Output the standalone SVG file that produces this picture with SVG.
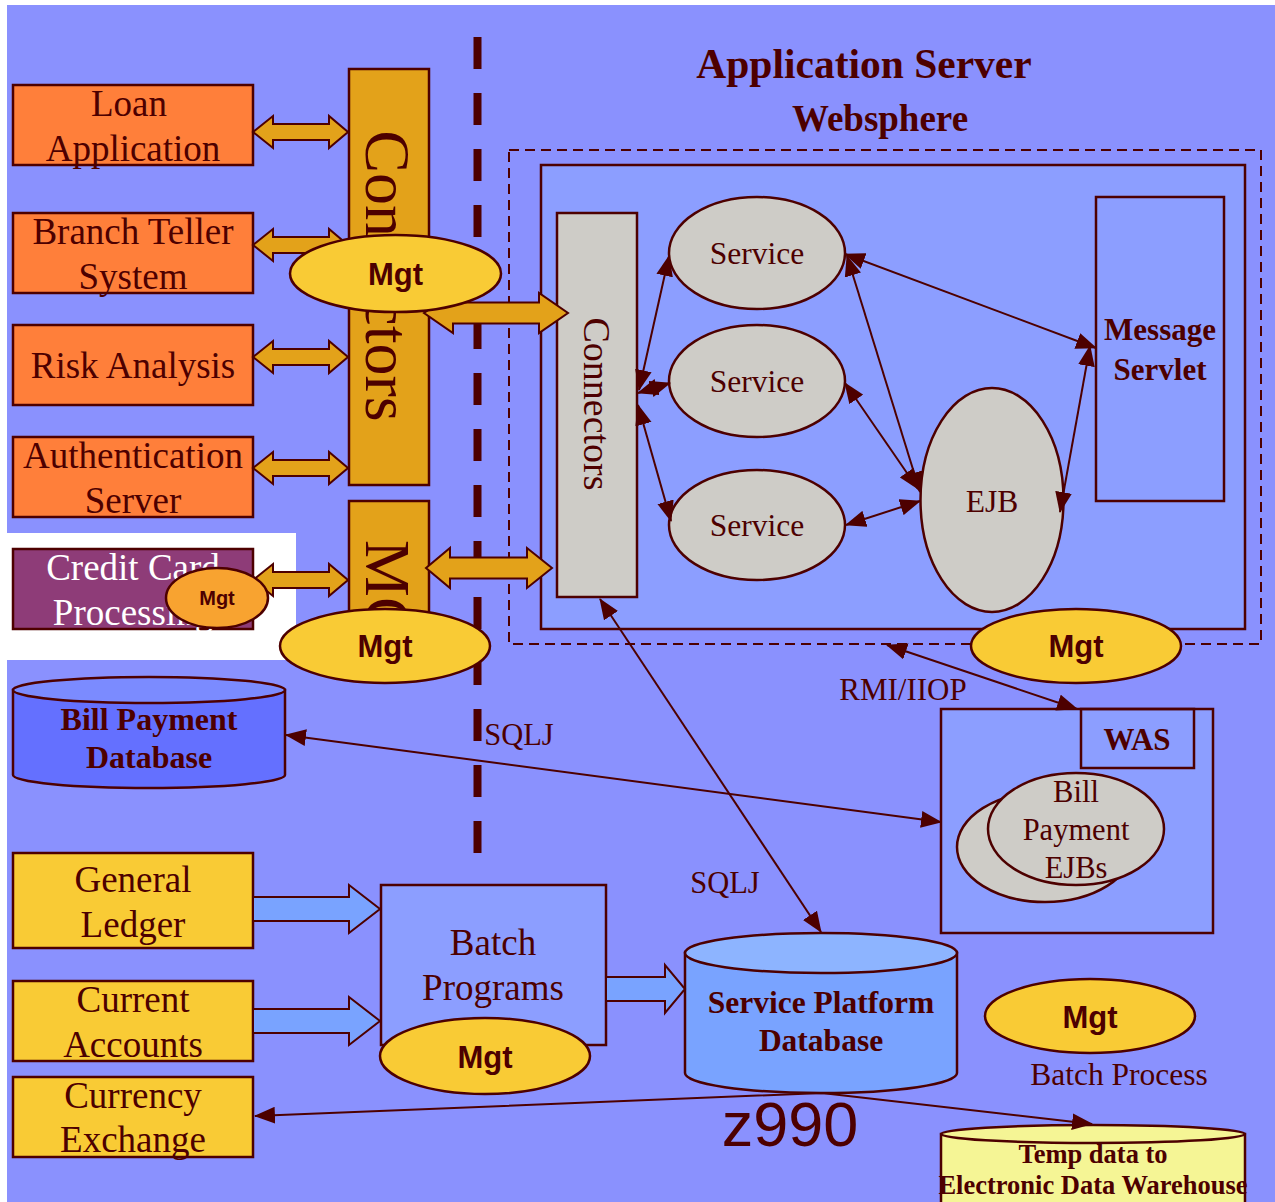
<svg xmlns="http://www.w3.org/2000/svg" width="1275" height="1202" viewBox="0 0 1275 1202">
  <defs>
    <style>
      .bx { stroke: #4D0000; stroke-width: 2.5; }
      .orange { fill: #FF7F3A; }
      .yellow { fill: #F9CB35; }
      .gold { fill: #E3A21A; }
      .grey { fill: #CECCC7; }
      .lblue { fill: #8C9EFF; }
      .t { font-family: "Liberation Serif", "Times New Roman", serif; fill: #4D0000; text-anchor: middle; }
      .tb { font-family: "Liberation Serif", "Times New Roman", serif; fill: #4D0000; text-anchor: middle; font-weight: bold; }
      .mgt { font-family: "Liberation Sans", Arial, sans-serif; font-weight: bold; fill: #4D0000; text-anchor: middle; }
      .ln { fill: none; stroke: #4D0000; stroke-width: 2; marker-start: url(#ah); marker-end: url(#ah); }
      .blk { stroke: #4D0000; stroke-width: 2; stroke-linejoin: miter; }
    </style>
    <marker id="ah" viewBox="0 0 20 16" refX="19" refY="8" markerWidth="21" markerHeight="17" markerUnits="userSpaceOnUse" orient="auto-start-reverse">
      <path d="M0,0 L20,8 L0,16 z" fill="#4D0000"/>
    </marker>
  </defs>

  <!-- page -->
  <rect x="0" y="0" width="1275" height="1202" fill="#FFFFFF"/>
  <rect x="7" y="5" width="1268" height="1197" fill="#8A91FE"/>
  <rect x="7" y="533" width="289" height="127" fill="#FFFFFF"/>

  <!-- boundary line between channels and server -->
  <line x1="477.5" y1="37" x2="477.5" y2="853" stroke="#4D0000" stroke-width="8" stroke-dasharray="32 24"/>

  <!-- titles -->
  <text class="tb" x="864" y="78" font-size="41.5">Application Server</text>
  <text class="tb" x="880" y="131" font-size="37">Websphere</text>

  <!-- WebSphere container -->
  <g id="websphere">
    <rect x="509" y="150" width="752" height="494" fill="none" stroke="#4D0000" stroke-width="2" stroke-dasharray="10 6"/>
    <rect x="541" y="165" width="704" height="464" class="lblue bx"/>
  </g>

  <!-- channel systems -->
  <g id="loan-application">
    <rect x="13" y="85" width="240" height="80" class="orange bx"/>
    <text class="t" x="129" y="116" font-size="37">Loan</text>
    <text class="t" x="133" y="161" font-size="37">Application</text>
  </g>
  <g id="branch-teller">
    <rect x="13" y="213" width="240" height="80" class="orange bx"/>
    <text class="t" x="133" y="244" font-size="37">Branch Teller</text>
    <text class="t" x="133" y="289" font-size="37">System</text>
  </g>
  <g id="risk-analysis">
    <rect x="13" y="325" width="240" height="80" class="orange bx"/>
    <text class="t" x="133" y="378" font-size="37">Risk Analysis</text>
  </g>
  <g id="authentication-server">
    <rect x="13" y="437" width="240" height="80" class="orange bx"/>
    <text class="t" x="133" y="468" font-size="37">Authentication</text>
    <text class="t" x="133" y="513" font-size="37">Server</text>
  </g>
  <g id="credit-card">
    <rect x="13" y="549" width="240" height="80" fill="#8E3C78" class="bx"/>
    <text class="t" x="133" y="580" font-size="37" style="fill:#FFFFFF">Credit Card</text>
    <text class="t" x="133" y="625" font-size="37" style="fill:#FFFFFF">Processing</text>
  </g>

  <!-- connector and MQ bars -->
  <g id="connectors-bar">
    <rect x="349" y="69" width="80" height="416" class="gold bx"/>
    <text class="t" transform="translate(366,276) rotate(90)" font-size="64">Connectors</text>
  </g>
  <g id="mq-bar">
    <rect x="349" y="501" width="80" height="130" class="gold bx"/>
    <text class="t" transform="translate(366,540) rotate(90)" font-size="64" style="text-anchor:start">MQ</text>
  </g>

  <!-- inner server components -->
  <g id="inner-connectors">
    <rect x="557" y="213" width="80" height="384" class="grey bx"/>
    <text class="t" transform="translate(584,404) rotate(90)" font-size="38">Connectors</text>
  </g>
  <g id="service-1">
    <ellipse cx="757" cy="253" rx="88" ry="56" class="grey bx"/>
    <text class="t" x="757" y="264" font-size="31.5">Service</text>
  </g>
  <g id="service-2">
    <ellipse cx="757" cy="381" rx="88" ry="56" class="grey bx"/>
    <text class="t" x="757" y="392" font-size="31.5">Service</text>
  </g>
  <g id="service-3">
    <ellipse cx="757" cy="525" rx="88" ry="55" class="grey bx"/>
    <text class="t" x="757" y="536" font-size="31.5">Service</text>
  </g>
  <g id="ejb">
    <ellipse cx="992" cy="500" rx="71.5" ry="112" class="grey bx"/>
    <text class="t" x="992" y="512" font-size="31.5">EJB</text>
  </g>
  <g id="message-servlet">
    <rect x="1096" y="197" width="128" height="304" fill="none" class="bx"/>
    <text class="tb" x="1160" y="340" font-size="31">Message</text>
    <text class="tb" x="1160" y="380" font-size="31">Servlet</text>
  </g>

  <!-- WAS box -->
  <g id="was">
    <rect x="941" y="709" width="272" height="224" class="lblue bx"/>
    <rect x="1081" y="709" width="113" height="59" fill="none" class="bx"/>
    <text class="tb" x="1137" y="750" font-size="31">WAS</text>
    <ellipse cx="1045" cy="847" rx="88" ry="55" class="grey bx"/>
    <ellipse cx="1076" cy="829" rx="88" ry="56" class="grey bx"/>
    <text class="t" x="1076" y="802" font-size="30.5">Bill</text>
    <text class="t" x="1076" y="840" font-size="30.5">Payment</text>
    <text class="t" x="1076" y="878" font-size="30.5">EJBs</text>
  </g>

  <!-- databases -->
  <g id="bill-payment-db">
    <path d="M13,690 L13,775 A136,13 0 0 0 285,775 L285,690 Z" fill="#6470FF" class="bx"/>
    <ellipse cx="149" cy="690" rx="136" ry="13" fill="#7B8BFF" class="bx"/>
    <text class="tb" x="149" y="730" font-size="32">Bill Payment</text>
    <text class="tb" x="149" y="768" font-size="32">Database</text>
  </g>
  <g id="service-platform-db">
    <path d="M685,953 L685,1073 A136,20 0 0 0 957,1073 L957,953 Z" fill="#79A3FF" class="bx"/>
    <ellipse cx="821" cy="953" rx="136" ry="20" fill="#8DB4FF" class="bx"/>
    <text class="tb" x="821" y="1013" font-size="31.5">Service Platform</text>
    <text class="tb" x="821" y="1051" font-size="31.5">Database</text>
  </g>
  <g id="temp-data">
    <path d="M941,1134 L941,1230 A152,9 0 0 0 1245,1230 L1245,1134 Z" fill="#F5F595" class="bx"/>
    <ellipse cx="1093" cy="1134" rx="152" ry="9" fill="#F5F595" class="bx"/>
    <text class="tb" x="1093" y="1163" font-size="26.5">Temp data to</text>
    <text class="tb" x="1093" y="1194" font-size="26.5">Electronic Data Warehouse</text>
  </g>

  <!-- batch sources -->
  <g id="general-ledger">
    <rect x="13" y="853" width="240" height="95" class="yellow bx"/>
    <text class="t" x="133" y="892" font-size="37">General</text>
    <text class="t" x="133" y="937" font-size="37">Ledger</text>
  </g>
  <g id="current-accounts">
    <rect x="13" y="981" width="240" height="80" class="yellow bx"/>
    <text class="t" x="133" y="1012" font-size="37">Current</text>
    <text class="t" x="133" y="1057" font-size="37">Accounts</text>
  </g>
  <g id="currency-exchange">
    <rect x="13" y="1077" width="240" height="80" class="yellow bx"/>
    <text class="t" x="133" y="1108" font-size="37">Currency</text>
    <text class="t" x="133" y="1152" font-size="37">Exchange</text>
  </g>
  <g id="batch-programs">
    <rect x="381" y="885" width="225" height="160" class="lblue bx"/>
    <text class="t" x="493" y="955" font-size="37">Batch</text>
    <text class="t" x="493" y="1000" font-size="37">Programs</text>
  </g>

  <!-- connectors -->
  <g id="connectors">
    <!-- channel block arrows -->
    <path class="gold blk" d="M253,132 L273,116 L273,124 L329,124 L329,116 L348,132 L329,148 L329,140 L273,140 L273,148 Z"/>
    <path class="gold blk" d="M253,245 L273,229 L273,237 L329,237 L329,229 L348,245 L329,261 L329,253 L273,253 L273,261 Z"/>
    <path class="gold blk" d="M253,357 L273,341 L273,349 L329,349 L329,341 L348,357 L329,373 L329,365 L273,365 L273,373 Z"/>
    <path class="gold blk" d="M253,468 L273,452 L273,460 L329,460 L329,452 L348,468 L329,484 L329,476 L273,476 L273,484 Z"/>
    <path class="gold blk" d="M253,580 L273,564 L273,572 L329,572 L329,564 L348,580 L329,596 L329,588 L273,588 L273,596 Z"/>
    <!-- bars to inner connectors -->
    <path class="gold blk" d="M424,313 L453,293 L453,302.5 L539,302.5 L539,293 L568,313 L539,333 L539,323.5 L453,323.5 L453,333 Z"/>
    <path class="gold blk" d="M426,568 L450,548 L450,557.5 L527,557.5 L527,548 L552,568 L527,588 L527,578.5 L450,578.5 L450,588 Z"/>
    <!-- batch feeds -->
    <path fill="#79A3FF" class="blk" d="M253,897 L349,897 L349,885 L380,909 L349,933 L349,921 L253,921 Z"/>
    <path fill="#79A3FF" class="blk" d="M253,1009 L349,1009 L349,997 L380,1021 L349,1045 L349,1033 L253,1033 Z"/>
    <path fill="#79A3FF" class="blk" d="M606,977 L665,977 L665,965 L685,989 L665,1013 L665,1001 L606,1001 Z"/>

    <!-- server internal links -->
    <line class="ln" x1="639" y1="390" x2="669" y2="256"/>
    <line class="ln" x1="638" y1="393" x2="670" y2="383"/>
    <line class="ln" x1="638" y1="405" x2="671" y2="521"/>
    <line class="ln" x1="845" y1="254" x2="1096" y2="348"/>
    <line class="ln" x1="847" y1="256" x2="920" y2="492"/>
    <line class="ln" x1="845" y1="383" x2="918" y2="489"/>
    <line class="ln" x1="846" y1="525" x2="920" y2="501"/>
    <line class="ln" x1="1060" y1="512" x2="1090" y2="346"/>

    <!-- remote calls -->
    <line class="ln" x1="887" y1="645" x2="1077" y2="709"/>
    <line class="ln" x1="941" y1="822" x2="286" y2="735"/>
    <line class="ln" x1="600" y1="599" x2="821" y2="932"/>
    <polyline class="ln" points="255,1116 822,1093 1092,1124"/>
  </g>

  <!-- management agents -->
  <g id="mgt-connectors">
    <ellipse cx="395.5" cy="273.5" rx="105.5" ry="38.5" class="yellow bx"/>
    <text class="mgt" x="395.5" y="285" font-size="31">Mgt</text>
  </g>
  <g id="mgt-mq">
    <ellipse cx="385" cy="646" rx="105" ry="37" class="yellow bx"/>
    <text class="mgt" x="385" y="657" font-size="31">Mgt</text>
  </g>
  <g id="mgt-credit-card">
    <ellipse cx="217" cy="598" rx="51" ry="30" fill="#F8A330" class="bx"/>
    <text class="mgt" x="217" y="605" font-size="20">Mgt</text>
  </g>
  <g id="mgt-websphere">
    <ellipse cx="1076" cy="646" rx="105" ry="37" class="yellow bx"/>
    <text class="mgt" x="1076" y="657" font-size="31">Mgt</text>
  </g>
  <g id="mgt-batch">
    <ellipse cx="485" cy="1056" rx="105" ry="38" class="yellow bx"/>
    <text class="mgt" x="485" y="1068" font-size="31">Mgt</text>
  </g>
  <g id="mgt-batch-process">
    <ellipse cx="1090" cy="1016" rx="105" ry="37" class="yellow bx"/>
    <text class="mgt" x="1090" y="1028" font-size="31">Mgt</text>
    <text class="t" x="1119" y="1085" font-size="31.5">Batch Process</text>
  </g>

  <!-- labels -->
  <text class="t" x="903" y="700" font-size="31">RMI/IIOP</text>
  <text class="t" x="519" y="745" font-size="30.5">SQLJ</text>
  <text class="t" x="725" y="893" font-size="30.5">SQLJ</text>
  <text x="790" y="1146" font-family="Liberation Sans, Arial, sans-serif" font-size="63" fill="#4D0000" text-anchor="middle">z990</text>
</svg>
